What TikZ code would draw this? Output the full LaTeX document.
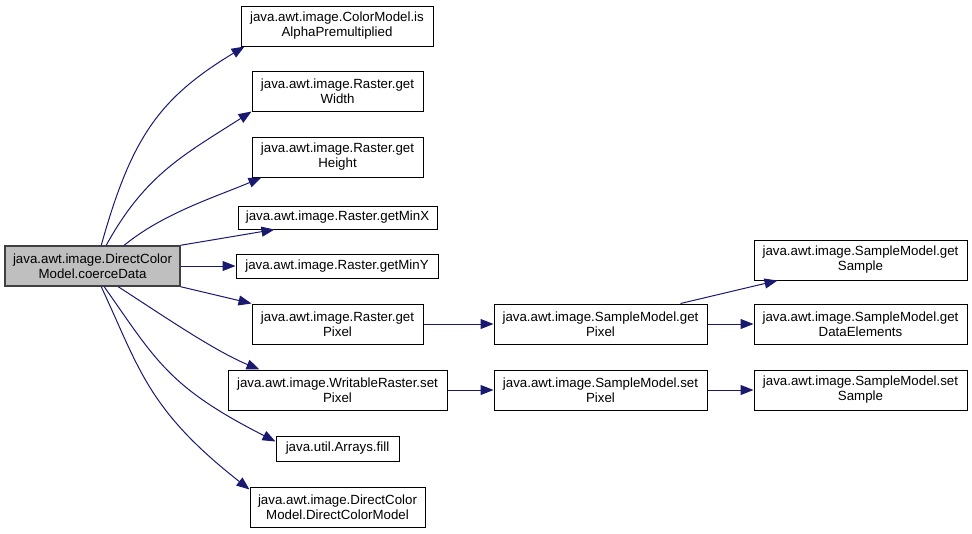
\documentclass[tikz,border=0pt]{standalone}
\usepackage{fontspec}
\setmainfont{Liberation Sans}
\usetikzlibrary{arrows.meta}
\definecolor{edgecol}{HTML}{191970}
\definecolor{mainfill}{HTML}{BFBFBF}
\definecolor{mainborder}{HTML}{404040}
\tikzset{
  box/.style={draw=black, line width=1pt, fill=white, inner sep=0pt, align=center,
    font=\fontsize{13.3}{15}\selectfont},
  mainbox/.style={box, draw=mainborder, line width=1.5pt, fill=mainfill},
  edge/.style={draw=edgecol, line width=1pt,
    -{Triangle[length=13pt,width=10pt]}},
}
\begin{document}
\begin{tikzpicture}[x=1pt,y=-1pt]
\useasboundingbox (0,0) rectangle (972,533);
% nodes
\node[mainbox, minimum width=175pt, minimum height=40pt] (main) at (92.5,266) {java.awt.image.DirectColor\\Model.coerceData};
\node[box, minimum width=192pt, minimum height=40pt] (n1) at (337,26) {java.awt.image.ColorModel.is\\AlphaPremultiplied};
\node[box, minimum width=171pt, minimum height=40pt] (n2) at (337.5,91) {java.awt.image.Raster.get\\Width};
\node[box, minimum width=171pt, minimum height=40pt] (n3) at (337.5,157) {java.awt.image.Raster.get\\Height};
\node[box, minimum width=199pt, minimum height=23pt] (n4) at (337.5,217.5) {java.awt.image.Raster.getMinX};
\node[box, minimum width=202pt, minimum height=24pt] (n5) at (337,266) {java.awt.image.Raster.getMinY};
\node[box, minimum width=171pt, minimum height=40pt] (n6) at (337.5,324) {java.awt.image.Raster.get\\Pixel};
\node[box, minimum width=219pt, minimum height=40pt] (n7) at (337.5,390) {java.awt.image.WritableRaster.set\\Pixel};
\node[box, minimum width=123pt, minimum height=25pt] (n8) at (337.5,448.5) {java.util.Arrays.fill};
\node[box, minimum width=175pt, minimum height=40pt] (n9) at (337.5,507.5) {java.awt.image.DirectColor\\Model.DirectColorModel};
\node[box, minimum width=213pt, minimum height=40pt] (sgp) at (600.5,324) {java.awt.image.SampleModel.get\\Pixel};
\node[box, minimum width=213pt, minimum height=40pt] (ssp) at (600.5,390) {java.awt.image.SampleModel.set\\Pixel};
\node[box, minimum width=213pt, minimum height=40pt] (gs) at (860.5,260) {java.awt.image.SampleModel.get\\Sample};
\node[box, minimum width=213pt, minimum height=40pt] (gde) at (860.5,324) {java.awt.image.SampleModel.get\\DataElements};
\node[box, minimum width=213pt, minimum height=40pt] (ss) at (860.5,390) {java.awt.image.SampleModel.set\\Sample};
% edges from main
\draw[edge] ([xshift=97pt]main.north west) .. controls +(30,-107) and +(-86,52) .. ([xshift=4pt]n1.south west);
\draw[edge] ([xshift=102pt]main.north west) .. controls +(39,-71) and +(-67,43) .. (n2.south west);
\draw[edge] ([xshift=120pt]main.north west) .. controls +(39,-32) and +(-46,19.5) .. ([xshift=10pt]n3.south west);
\draw[edge] (main.north east) -- ([xshift=37pt]n4.south west);
\draw[edge] (main.east) -- (n5.west);
\draw[edge] (main.south east) -- (n6.north west);
\draw[edge] ([xshift=114pt]main.south west) .. controls +(42,27) and +(-46,-19) .. ([xshift=32pt]n7.north west);
\draw[edge] ([xshift=100pt]main.south west) .. controls +(52,74) and +(-107,-54.5) .. ([yshift=-6pt]n8.north west);
\draw[edge] ([xshift=97pt]main.south west) .. controls +(38,81.5) and +(-102,-80) .. ([yshift=-2.5pt]n9.north west);
% second level
\draw[edge] (n6.east) -- (sgp.west);
\draw[edge] (n7.east) -- (ssp.west);
\draw[edge] ([xshift=-27pt]sgp.north east) -- ([xshift=24pt]gs.south west);
\draw[edge] (sgp.east) -- (gde.west);
\draw[edge] (ssp.east) -- (ss.west);
\end{tikzpicture}
\end{document}
